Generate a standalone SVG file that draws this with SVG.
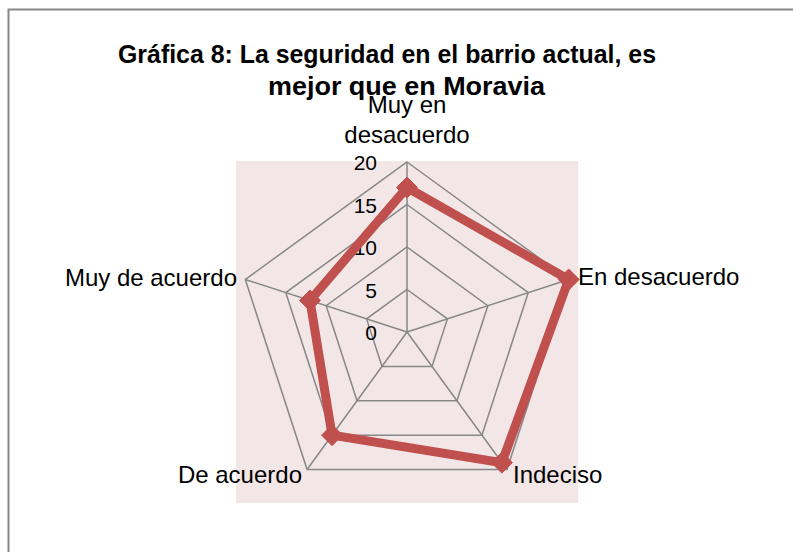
<svg xmlns="http://www.w3.org/2000/svg" width="793" height="552" viewBox="0 0 793 552">
  <style>
    .grid { fill: none; stroke: #878787; stroke-width: 1.5; stroke-linejoin: miter; }
    .lbl { font-family: "Liberation Sans", Arial, sans-serif; font-size: 24px; fill: #000; }
    .tick { font-family: "Liberation Sans", Arial, sans-serif; font-size: 21px; fill: #000; text-anchor: end; }
    .title { font-family: "Liberation Sans", Arial, sans-serif; font-size: 25px; font-weight: bold; fill: #000; }
    .series { fill: none; stroke: #C0504D; stroke-width: 9; stroke-linejoin: miter; }
    .mk { fill: #C0504D; stroke: #C0504D; stroke-width: 1; }
  </style>
  <defs>
    <path id="diamond" d="M0,-10.5 L10.5,0 L0,10.5 L-10.5,0 Z"/>
  </defs>
  <rect x="0" y="0" width="793" height="552" fill="#ffffff"/>
  <path d="M8.5,552 V9.5 H793" fill="none" stroke="#878787" stroke-width="2"/>

  <g id="title">
    <text class="title" x="118" y="63" textLength="538" lengthAdjust="spacingAndGlyphs">Gráfica 8: La seguridad en el barrio actual, es</text>
    <text class="title" x="268" y="95" textLength="277" lengthAdjust="spacingAndGlyphs">mejor que en Moravia</text>
  </g>

  <g id="plot-area">
    <rect x="236" y="161" width="342" height="342" fill="#F2E6E6"/>
  </g>

  <g id="grid">
    <polygon class="grid" points="407,289.5 447.42,318.87 431.98,366.38 382.02,366.38 366.58,318.87"/>
    <polygon class="grid" points="407,247 487.84,305.74 456.96,400.77 357.04,400.77 326.16,305.74"/>
    <polygon class="grid" points="407,204.5 528.27,292.6 481.94,435.15 332.06,435.15 285.73,292.6"/>
    <polygon class="grid" points="407,162 568.69,279.47 506.93,469.53 307.07,469.53 245.31,279.47"/>
    <path class="grid" d="M407,332 L407,162 M407,332 L568.69,279.47 M407,332 L506.93,469.53 M407,332 L307.07,469.53 M407,332 L245.31,279.47"/>
  </g>

  <g id="ticks">
    <text class="tick" x="377" y="170">20</text>
    <text class="tick" x="377" y="212.5">15</text>
    <text class="tick" x="377" y="255">10</text>
    <text class="tick" x="377" y="297.5">5</text>
    <text class="tick" x="377" y="340">0</text>
  </g>

  <g id="axis-labels">
    <g id="label-muy-en-desacuerdo">
      <text class="lbl" x="407" y="113" text-anchor="middle">Muy en</text>
      <text class="lbl" x="407" y="143" text-anchor="middle">desacuerdo</text>
    </g>
    <g id="label-en-desacuerdo"><text class="lbl" x="578" y="285">En desacuerdo</text></g>
    <g id="label-indeciso"><text class="lbl" x="513" y="483">Indeciso</text></g>
    <g id="label-de-acuerdo"><text class="lbl" x="302" y="483" text-anchor="end">De acuerdo</text></g>
    <g id="label-muy-de-acuerdo"><text class="lbl" x="237" y="286" text-anchor="end">Muy de acuerdo</text></g>
  </g>

  <g id="connectors">
    <polygon class="series" points="407,187.5 568.69,279.47 501.93,462.65 332.06,435.15 309.99,300.48"/>
  </g>

  <g id="markers">
    <use href="#diamond" class="mk" x="407" y="187.5"/>
    <use href="#diamond" class="mk" x="568.69" y="279.47"/>
    <use href="#diamond" class="mk" x="501.93" y="462.65"/>
    <use href="#diamond" class="mk" x="332.06" y="435.15"/>
    <use href="#diamond" class="mk" x="309.99" y="300.48"/>
  </g>
</svg>
